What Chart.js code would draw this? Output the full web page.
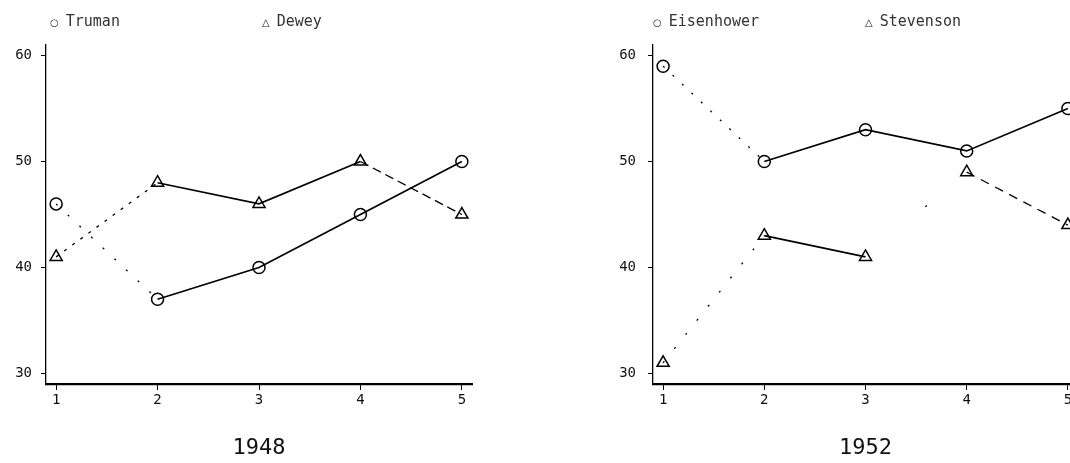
<!DOCTYPE html>
<html>
<head>
<meta charset="utf-8">
<script src="https://cdn.jsdelivr.net/npm/chart.js@4/dist/chart.umd.min.js"></script>
<style>
  body { margin: 0; width: 1070px; height: 463px; overflow: hidden; background: #fff; position: relative; }
  .panel { position: absolute; top: 0; height: 463px; }
  #p1948 { left: 0; width: 500px; }
  #p1952 { left: 560px; width: 560px; }
  .legend { position: absolute; top: 12px; display: flex; font-family: "DejaVu Sans Mono", monospace; }
  .legend .item { min-width: 212px; color: #333; font-size: 15px; white-space: nowrap; }
  .legend .mk { font-family: "DejaVu Sans", sans-serif; font-size: 10px; margin-right: 7px; color: #222; }
</style>
</head>
<body>
<div class="panel" id="p1948">
  <div class="legend" id="leg1948" style="left:50px"></div>
  <canvas id="c1948" width="500" height="463"></canvas>
</div>
<div class="panel" id="p1952">
  <div class="legend" id="leg1952" style="left:93px"></div>
  <canvas id="c1952" width="560" height="463"></canvas>
</div>
<script>
// poll round (x axis) and tick labels
const rounds = [1, 2, 3, 4, 5];
const yTicks = [30, 40, 50, 60];

// 1948
const truman = [46, 37, 40, 45, 50];
const dewey = [41, 48, 46, 50, 45];
// 1952
const eisenhower = [59, 50, 53, 51, 55];
const stevenson = [31, 43, 41, 49, 44];

// per-segment dash styles (segment i joins point i and i+1)
const trumanDash = [[2, 14], [], [], []];
const deweyDash = [[3, 7], [], [], [9, 5]];
const eisenDash = [[2, 11], [], [], []];
const stevDash = [[2, 16], [], [2, 300], [9, 7]];

const markChar = { circle: '\u25CB', triangle: '\u25B3' };

function points(vals) {
    return vals.map((v, i) => ({ x: rounds[i], y: v }));
}

function series(label, vals, style, radius, dashes) {
    return {
        label: label,
        data: points(vals),
        borderColor: '#000',
        borderWidth: 1.7,
        pointStyle: style,
        pointRadius: radius,
        pointBorderWidth: 1.5,
        pointBorderColor: '#000',
        pointBackgroundColor: 'rgba(0,0,0,0)',
        tension: 0,
        segment: {
            borderDash: ctx => dashes[ctx.p0DataIndex],
            borderDashOffset: ctx => (dashes[ctx.p0DataIndex][1] > 100 ? -78 : 0),
            borderWidth: ctx => (dashes[ctx.p0DataIndex].length ? 1.3 : 1.7)
        }
    };
}

const htmlLegend = {
    id: 'htmlLegend',
    afterUpdate(chart, args, opts) {
        const box = document.getElementById(opts.containerID);
        box.innerHTML = '';
        chart.data.datasets.forEach(ds => {
            const item = document.createElement('span');
            item.className = 'item';
            const mk = document.createElement('span');
            mk.className = 'mk';
            mk.textContent = markChar[ds.pointStyle];
            item.appendChild(mk);
            item.appendChild(document.createTextNode(ds.label));
            box.appendChild(item);
        });
    }
};

function makeChart(canvasId, legendId, title, datasets, yWidth, yPad, rightPad) {
    return new Chart(document.getElementById(canvasId), {
        type: 'line',
        data: { datasets: datasets },
        plugins: [htmlLegend],
        options: {
            responsive: false,
            animation: false,
            layout: { padding: { top: 45, right: rightPad, bottom: 0, left: 0 } },
            plugins: {
                legend: { display: false },
                tooltip: { enabled: false },
                htmlLegend: { containerID: legendId }
            },
            scales: {
                x: {
                    type: 'linear',
                    min: 0.9,
                    max: 5.1,
                    afterBuildTicks: s => { s.ticks = rounds.map(v => ({ value: v })); },
                    afterFit: s => { s.height = 79; },
                    grid: { drawOnChartArea: false, drawTicks: true, tickLength: 6, color: '#000', lineWidth: 1 },
                    border: { display: true, color: '#000', width: 2.2 },
                    ticks: {
                        color: '#111',
                        padding: 2,
                        maxRotation: 0,
                        font: { family: 'DejaVu Sans Mono', size: 14 }
                    },
                    title: {
                        display: true,
                        text: title,
                        color: '#111',
                        padding: { top: 0, bottom: 2 },
                        font: { family: 'DejaVu Sans Mono', size: 22 }
                    }
                },
                y: {
                    min: 29,
                    max: 61,
                    afterBuildTicks: s => { s.ticks = yTicks.map(v => ({ value: v })); },
                    afterFit: s => { s.width = yWidth; },
                    grid: { drawOnChartArea: false, drawTicks: true, tickLength: 5, color: '#000', lineWidth: 1 },
                    border: { display: true, color: '#000', width: 1.3, dash: [6, 3] },
                    ticks: {
                        color: '#111',
                        padding: yPad,
                        font: { family: 'DejaVu Sans Mono', size: 14 }
                    }
                }
            }
        }
    });
}

makeChart('c1948', 'leg1948', '1948', [
    series('Truman', truman, 'circle', 6, trumanDash),
    series('Dewey', dewey, 'triangle', 7, deweyDash)
], 46, 9, 28);

makeChart('c1952', 'leg1952', '1952', [
    series('Eisenhower', eisenhower, 'circle', 6, eisenDash),
    series('Stevenson', stevenson, 'triangle', 7, stevDash)
], 93, 12, 42);
</script>
</body>
</html>
